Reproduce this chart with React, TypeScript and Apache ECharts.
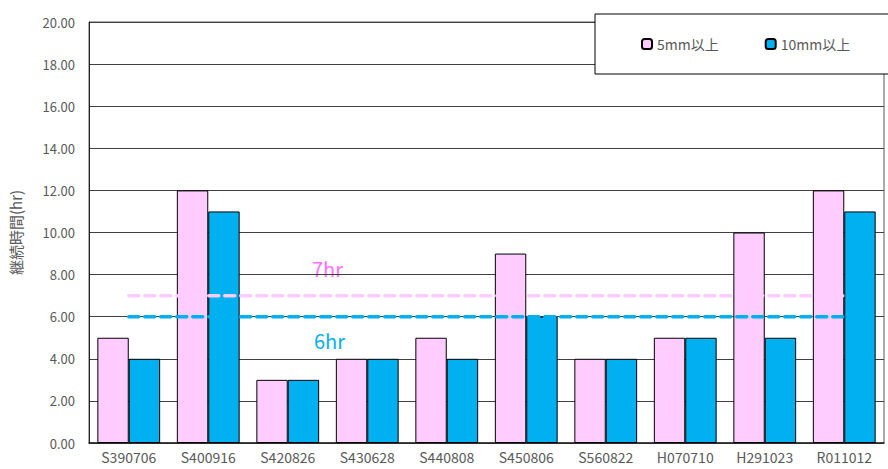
import React, { useEffect, useRef } from "react";
import * as echarts from "echarts";

const categories = ["S390706", "S400916", "S420826", "S430628", "S440808", "S450806", "S560822", "H070710", "H291023", "R011012"];
const over5mm = [5, 12, 3, 4, 5, 9, 4, 5, 10, 12];
const over10mm = [4, 11, 3, 4, 4, 6, 4, 5, 5, 11];
const threshold7 = categories.map(() => 7);
const threshold6 = categories.map(() => 6);
const seriesNames = ["5mm以上", "10mm以上"];
const yAxisName = "継続時間(hr)";

const FONT = "'Noto Sans CJK JP', sans-serif";

export default function App() {
  const ref = useRef<HTMLDivElement>(null);
  useEffect(() => {
    const chart = echarts.init(ref.current!, null, { renderer: "svg" });
    chart.setOption({
      animation: false,
      textStyle: { fontFamily: FONT },
      grid: { left: 89, right: 4, top: 22, bottom: 26, show: true, borderColor: "#595959", borderWidth: 1, backgroundColor: "transparent" },
      legend: {
        data: seriesNames,
        orient: "horizontal",
        left: 641,
        top: 37,
        width: 260,
        padding: 0,
        itemWidth: 10,
        itemHeight: 10,
        itemGap: 46,
        textStyle: { color: "#595959", fontSize: 14, fontFamily: FONT },
        z: 20,
      },
      xAxis: {
        type: "category",
        data: categories,
        axisLine: { lineStyle: { color: "#222", width: 1.5 } },
        axisTick: { show: false },
        axisLabel: { color: "#595959", fontSize: 14, margin: 7, interval: 0 },
      },
      yAxis: {
        type: "value",
        min: 0,
        max: 20,
        interval: 2,
        name: yAxisName,
        nameLocation: "middle",
        nameGap: 66,
        nameTextStyle: { color: "#595959", fontSize: 15 },
        axisLine: { show: true, lineStyle: { color: "#222" } },
        axisTick: { show: false },
        axisLabel: { color: "#595959", fontSize: 13, margin: 14, formatter: (v: number) => v.toFixed(2) },
        splitLine: { lineStyle: { color: "#404040", width: 1 } },
      },
      graphic: [
        { type: "rect", z: 10, shape: { x: 595, y: 14, width: 310, height: 60 }, style: { fill: "#fff", stroke: "#000", lineWidth: 1 } },
        { type: "text", left: 312, top: 258, style: { text: "7hr", fill: "#FF70FF", fontSize: 20, fontFamily: FONT } },
        { type: "text", left: 314, top: 330, style: { text: "6hr", fill: "#00B0F0", fontSize: 20, fontFamily: FONT } },
      ],
      series: [
        {
          name: seriesNames[0],
          type: "bar",
          data: over5mm,
          barGap: "0%",
          barCategoryGap: "21%",
          itemStyle: { color: "#FFCCFF", borderColor: "#000", borderWidth: 1 },
        },
        {
          name: seriesNames[1],
          type: "bar",
          data: over10mm,
          itemStyle: { color: "#00B0F0", borderColor: "#000", borderWidth: 1 },
        },
        {
          type: "line",
          data: threshold7,
          symbol: "none",
          z: 5,
          lineStyle: { color: "#FFCCFF", width: 3.5, type: [10, 6], cap: "round" },
        },
        {
          type: "line",
          data: threshold6,
          symbol: "none",
          z: 5,
          lineStyle: { color: "#00B0F0", width: 3.5, type: [10, 6], cap: "round" },
        },
      ],
    });
    return () => chart.dispose();
  }, []);
  return <div ref={ref} style={{ width: 888, height: 469, position: "absolute", left: 0, top: 0 }} />;
}
